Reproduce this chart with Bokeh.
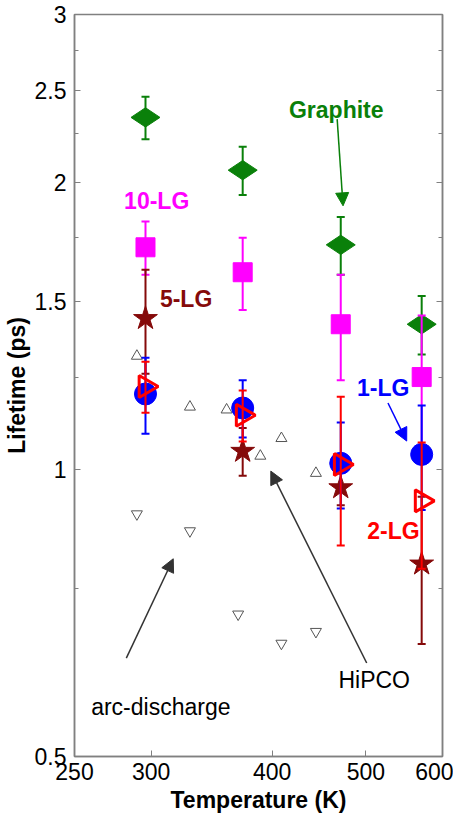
import numpy as np
from bokeh.plotting import figure
from bokeh.models import (ColumnDataSource, FixedTicker, PrintfTickFormatter, LogAxis,
                          Label, Arrow, NormalHead, CustomJSTickFormatter)
from bokeh.embed import file_html
from bokeh.resources import INLINE

# ---------------- data ----------------
temps = [296, 373, 471, 571]

graphite = [2.34, 2.06, 1.72, 1.42]
graphite_err = [0.12, 0.12, 0.12, 0.10]
lg10 = [1.71, 1.61, 1.42, 1.25]
lg10_err = [0.11, 0.14, 0.18, 0.20]
lg5 = [1.44, 1.045, 0.957, 0.796]
lg5_err = [0.18, 0.06, 0.04, 0.14]
lg1 = [1.20, 1.16, 1.015, 1.037]
lg1_err = [0.11, 0.08, 0.105, 0.13]
lg2 = [1.222, 1.14, 1.012, 0.927]
lg2_err = [0.075, 0.07, 0.18, 0.14]

hipco_T = [290, 329, 359, 389, 409, 444]
hipco = [1.315, 1.163, 1.155, 1.033, 1.078, 0.991]
arc_T = [290, 329, 369, 409, 444]
arc = [0.898, 0.862, 0.705, 0.657, 0.676]

x_ticks = [250, 300, 400, 500, 600]
y_ticks = [0.5, 1, 1.5, 2, 2.5, 3]
y_minor = [0.75, 1.25, 1.75, 2.25, 2.75]

FONT = "Liberation Sans"
GREEN = "#0a800a"
MAGENTA = "#ff00ff"
DARKRED = "#850a0a"
BLUE = "#0000ff"
RED = "#ff0000"
AXIS = "#808080"

p = figure(width=453, height=820, x_axis_type="log", y_axis_type="log",
           x_range=(250, 600), y_range=(0.5, 3),
           min_border_left=69, min_border_right=11, min_border_top=14, min_border_bottom=64,
           output_backend="svg", toolbar_location=None)
p.xgrid.visible = False
p.ygrid.visible = False
p.outline_line_color = AXIS
p.outline_line_width = 1.5
p.background_fill_color = "white"
p.border_fill_color = "white"

p.xaxis.ticker = FixedTicker(ticks=x_ticks, minor_ticks=[])
p.yaxis.ticker = FixedTicker(ticks=y_ticks, minor_ticks=y_minor)
for ax in (p.xaxis[0], p.yaxis[0]):
    ax.formatter = PrintfTickFormatter(format="%g")
    ax.axis_line_color = AXIS
    ax.axis_line_width = 1.5
    ax.major_tick_line_color = AXIS
    ax.minor_tick_line_color = AXIS
    ax.major_tick_in = 6
    ax.major_tick_out = 0
    ax.minor_tick_in = 4
    ax.minor_tick_out = 0
    ax.major_label_text_font = FONT
    ax.major_label_text_font_size = "23px"
    ax.major_label_text_color = "black"
    ax.axis_label_text_font = FONT
    ax.axis_label_text_font_size = "23px"
    ax.axis_label_text_font_style = "bold"
    ax.axis_label_text_color = "black"
p.xaxis.axis_label = "Temperature (K)"
p.yaxis.axis_label = "Lifetime (ps)"
p.xaxis.major_label_standoff = 6
p.xaxis.axis_label_standoff = 4
p.yaxis.major_label_standoff = 8
p.yaxis.axis_label_standoff = 2

rax = LogAxis(ticker=FixedTicker(ticks=y_ticks, minor_ticks=y_minor),
              formatter=CustomJSTickFormatter(code="return ''"),
              major_label_standoff=0,
              axis_line_color=AXIS, axis_line_width=1.5,
              major_tick_line_color=AXIS, minor_tick_line_color=AXIS,
              major_tick_in=6, major_tick_out=0, minor_tick_in=4, minor_tick_out=0)
p.add_layout(rax, "right")

# ---------------- nanotube reference points ----------------
p.scatter(hipco_T, hipco, marker="triangle", size=11, fill_color=None,
          line_color="#555555", line_width=1)
p.scatter(arc_T, arc, marker="inverted_triangle", size=11, fill_color=None,
          line_color="#555555", line_width=1)


def series(y, err, color, marker, size, angle=0.0, fill=True, lw=1.0):
    lo = [a - b for a, b in zip(y, err)]
    hi = [a + b for a, b in zip(y, err)]
    src = ColumnDataSource(dict(x=temps, y=y, lo=lo, hi=hi))
    p.segment(x0="x", y0="lo", x1="x", y1="hi", source=src, line_color=color, line_width=2)
    p.scatter(x="x", y="lo", source=src, marker="dash", size=8, line_color=color, line_width=2)
    p.scatter(x="x", y="hi", source=src, marker="dash", size=8, line_color=color, line_width=2)
    p.scatter(x="x", y="y", source=src, marker=marker, size=size, angle=angle,
              fill_color=color if fill else None, line_color=color, line_width=lw)


series(graphite, graphite_err, GREEN, "diamond", 29, angle=np.pi / 2)
series(lg10, lg10_err, MAGENTA, "square", 19)
series(lg5, lg5_err, DARKRED, "star", 25)
series(lg1, lg1_err, BLUE, "circle", 22)
series(lg2, lg2_err, RED, "triangle", 22, angle=-np.pi / 2, fill=False, lw=3)

# ---------------- annotations ----------------
labels = [
    ("Graphite", 466, 2.384, GREEN, "bold"),
    ("10-LG", 304, 1.913, MAGENTA, "bold"),
    ("5-LG", 326, 1.508, DARKRED, "bold"),
    ("1-LG", 521, 1.217, BLUE, "bold"),
    ("2-LG", 534, 0.8625, RED, "bold"),
    ("HiPCO", 510, 0.6016, "black", "normal"),
    ("arc-discharge", 307, 0.564, "black", "normal"),
]
for txt, lx, ly, col, style in labels:
    p.add_layout(Label(x=lx, y=ly, text=txt, text_align="center", text_baseline="middle",
                       text_font=FONT, text_font_size="23px", text_font_style=style,
                       text_color=col))

arrows = [
    (467, 2.33, 473.6, 1.89, GREEN),
    (527, 1.174, 551, 1.071, BLUE),
    (501, 0.6266, 398.8, 0.996, "#333333"),
    (282.8, 0.634, 316.2, 0.806, "#333333"),
]
for xs, ys, xe, ye, col in arrows:
    p.add_layout(Arrow(x_start=xs, y_start=ys, x_end=xe, y_end=ye,
                       line_color=col, line_width=1.5,
                       end=NormalHead(size=13, fill_color=col, line_color=col, line_width=1)))

open("out.html", "w").write(file_html(p, INLINE))
